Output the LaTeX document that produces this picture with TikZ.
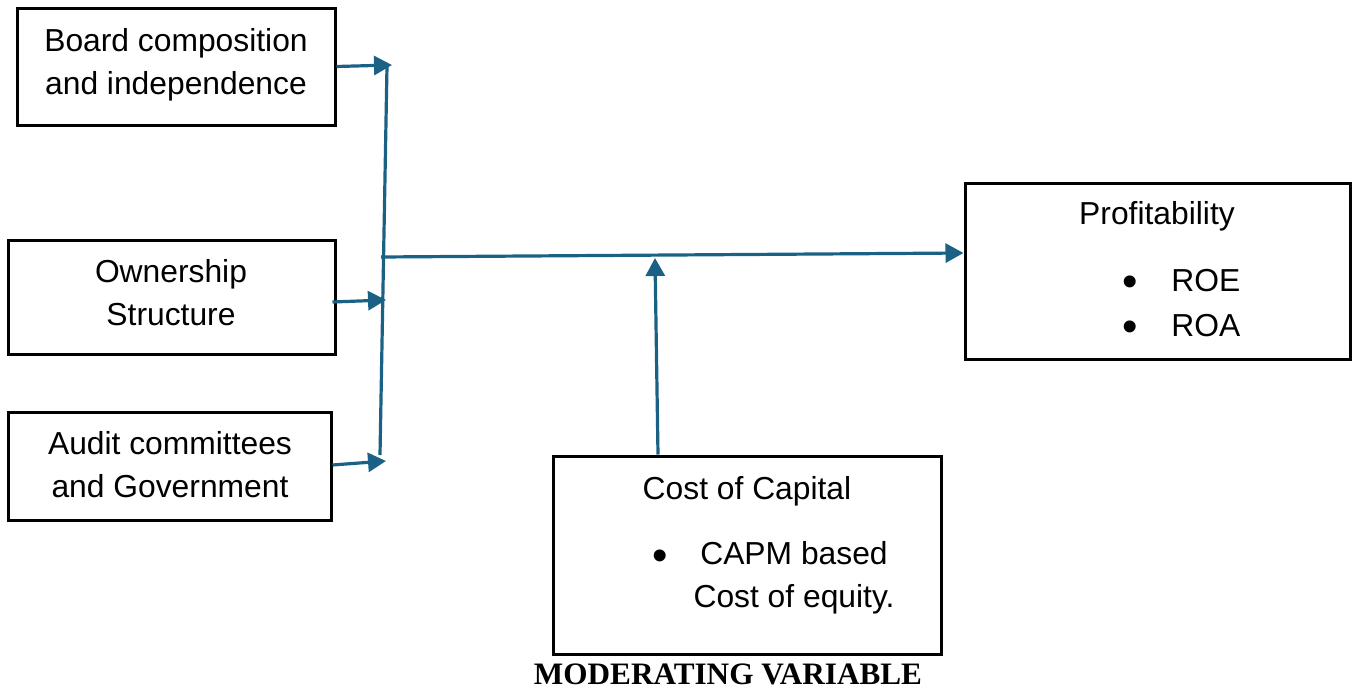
\documentclass[tikz,border=0pt]{standalone}
\usepackage{fontspec}
\setmainfont{Liberation Sans}
\newfontfamily\timesfont{Liberation Serif}
\usetikzlibrary{arrows.meta,calc}
\definecolor{arr}{RGB}{26,97,133}
\begin{document}
\begin{tikzpicture}[x=0.5pt,y=-0.5pt,
 box/.style={draw=black,line width=1.5pt,inner sep=0pt},
 lbl/.style={font=\fontsize{15.9}{21.5}\selectfont,align=center,inner sep=0pt},
 bul/.style={font=\fontsize{22}{22}\selectfont,inner sep=0pt},
 conn/.style={draw=arr,line width=1.6pt},
 arrowed/.style={conn,-{Triangle[length=9pt,width=9.5pt]}}]
\useasboundingbox (0,0) rectangle (1357,691);
% boxes
\node[box,minimum width=159pt,minimum height=58.5pt] (board) at (176,66.5) {};
\node[box,minimum width=163.5pt,minimum height=57pt] (own) at (171.5,297) {};
\node[box,minimum width=161.5pt,minimum height=54pt] (audit) at (169.5,466) {};
\node[box,minimum width=192.5pt,minimum height=88pt] (profit) at (1157.5,271) {};
\node[box,minimum width=194pt,minimum height=99pt] (cost) at (747,555) {};
% texts
\node[lbl] (boardtxt) at (176,65) {Board composition\\and independence};
\node[lbl] (owntxt) at (171,292.5) {Ownership\\Structure};
\node[lbl] (audittxt) at (170,464.5) {Audit committees\\and Government};
\node[lbl] (proftxt) at (1157,216) {Profitability};
\node[bul] (b1) at (1130,286) {\textbullet};
\node[lbl,anchor=west] (roe) at (1171,281) {ROE};
\node[bul] (b2) at (1130,331) {\textbullet};
\node[lbl,anchor=west] (roa) at (1171,326) {ROA};
\node[lbl] (costtxt) at (747,491) {Cost of Capital};
\node[bul] (b3) at (660,560) {\textbullet};
\node[lbl] (capm) at (794,578) {CAPM based\\Cost of equity.};
\node[font=\timesfont\bfseries\fontsize{15.6}{18}\selectfont,inner sep=0pt] (mod) at (728,674) {MODERATING VARIABLE};
% connectors
\coordinate (spinetop) at (387,66);
\coordinate (spinebot) at (380,455);
\coordinate (tipb) at (392,65);
\coordinate (tipo) at (386,300);
\coordinate (tipa) at (386,461);
\coordinate (mainstart) at (381,257);
\coordinate (tipc) at (655,258);
\draw[conn] (spinetop) -- (spinebot);
\draw[arrowed] (board.east) -- (tipb);
\draw[arrowed] ($(own.east)+(-4,5)$) -- (tipo);
\draw[arrowed] ($(audit.east)+(0,-1)$) -- (tipa);
\draw[arrowed] (mainstart) -- ($(profit.west)+(0,-18)$);
\draw[arrowed] ($(cost.north)+(-89,0)$) -- (tipc);
\end{tikzpicture}
\end{document}
